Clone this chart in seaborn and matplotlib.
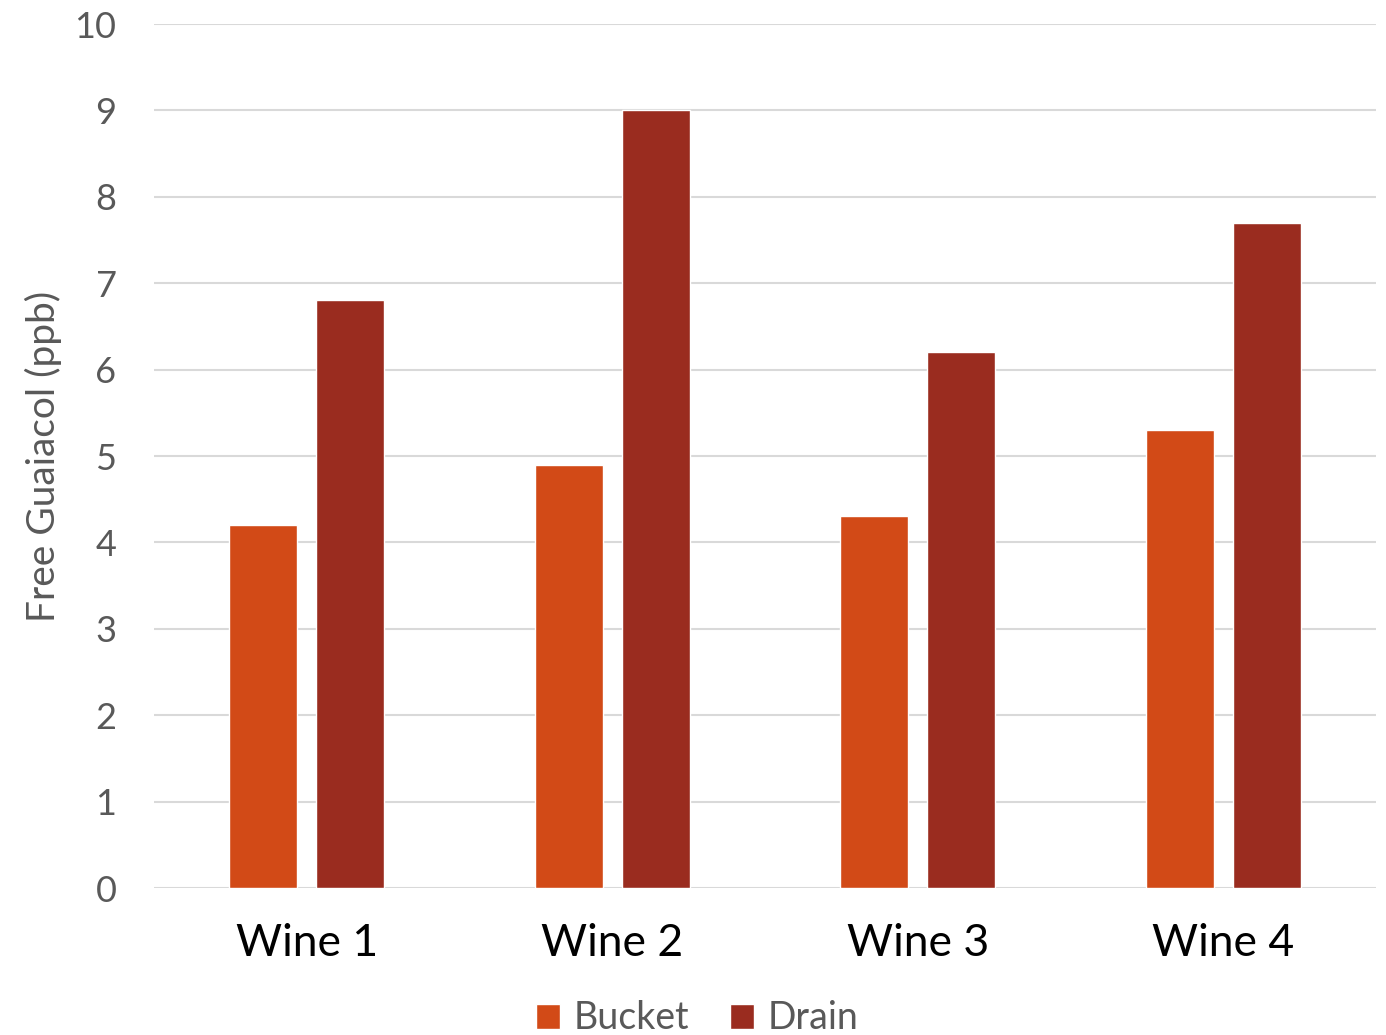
import matplotlib
matplotlib.use("Agg")
import matplotlib.pyplot as plt
import seaborn as sns
import pandas as pd

categories = ["Wine 1", "Wine 2", "Wine 3", "Wine 4"]
bucket = [4.2, 4.9, 4.3, 5.3]
drain = [6.8, 9.0, 6.2, 7.7]
series = ["Bucket", "Drain"]
yticks = [0, 1, 2, 3, 4, 5, 6, 7, 8, 9, 10]

df = pd.DataFrame({
    "Wine": categories * 2,
    "Value": bucket + drain,
    "Series": [series[0]] * 4 + [series[1]] * 4,
})

sns.set_theme(style="white")
plt.rcParams["font.family"] = ["Lato", "DejaVu Sans"]

fig = plt.figure(figsize=(13.86, 10.35), dpi=100)
ax = fig.add_axes([154 / 1386, 1 - 888 / 1035, (1376 - 154) / 1386, (888 - 24) / 1035])

palette = {"Bucket": "#D24A17", "Drain": "#9A2C1F"}
sns.barplot(data=df, x="Wine", y="Value", hue="Series", palette=palette,
            width=0.57, gap=0.22, ax=ax, saturation=1, legend=True)

ax.set_ylim(0, 10)
ax.set_yticks(yticks)
ax.set_yticklabels([str(t) for t in yticks], fontsize=26, color="#595959")
ax.set_xlim(-0.5, 3.5)
ax.tick_params(axis="x", labelsize=32, labelcolor="black", length=0, pad=25)
ax.tick_params(axis="y", length=0, pad=27)
ax.yaxis.grid(True, color="#D9D9D9", linewidth=1.5)
ax.set_axisbelow(True)
for s in ax.spines.values():
    s.set_visible(False)
ax.set_xlabel("")
ax.set_ylabel("Free Guaiacol (ppb)", fontsize=28, color="#595959")
ax.yaxis.set_label_coords(-92 / 1222, 0.5)

handles, labels = ax.get_legend_handles_labels()
ax.get_legend().remove()
fig.legend(handles, labels, loc="lower center", bbox_to_anchor=(0.503, -0.034),
           ncol=2, frameon=False, fontsize=27, labelcolor="#595959",
           handlelength=0.65, handleheight=0.65, handletextpad=0.35, columnspacing=1.1)

fig.savefig("out.png", dpi=100)
